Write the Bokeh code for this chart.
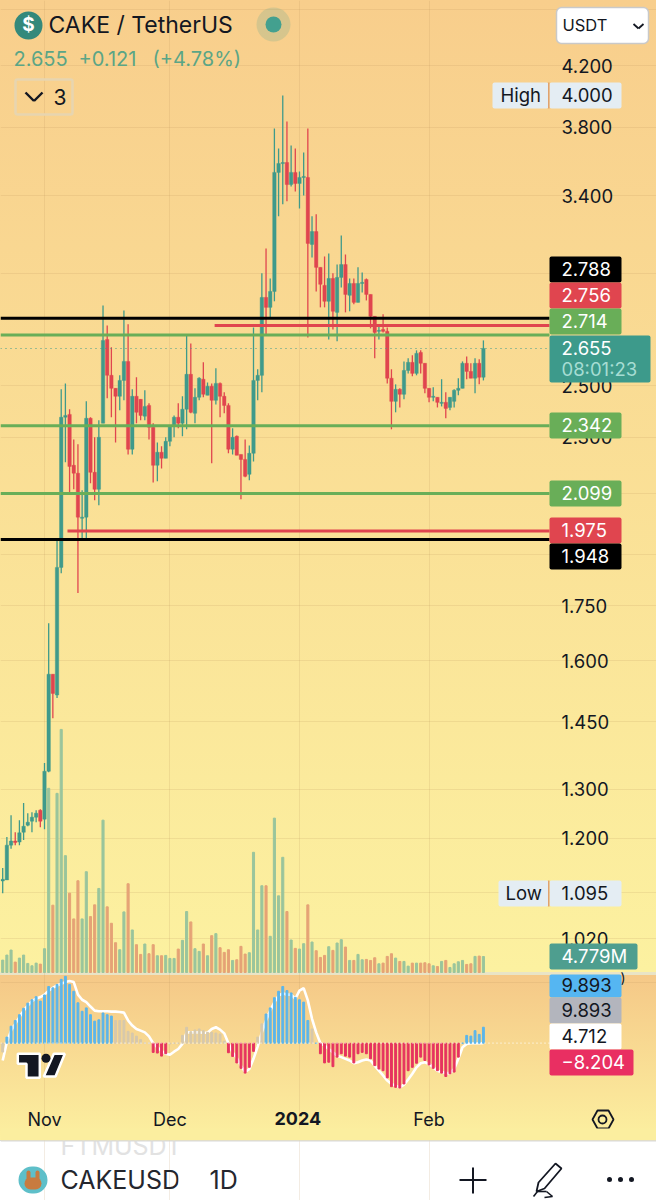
from bokeh.plotting import figure
from bokeh.embed import file_html
from bokeh.resources import INLINE
from bokeh.models import (Range1d, LinearScale, FixedTicker, NumeralTickFormatter, Label, BoxAnnotation,
                          PolyAnnotation, Arrow, ColumnDataSource)

# ---------- data ----------
days = list(range(-10, 106))   # days after 1 Nov 2023
opens = [1.120,1.122,1.187,1.195,1.193,1.212,1.226,1.234,1.242,1.256,1.238,1.338,1.566,1.514,1.862,2.375,2.386,2.197,2.169,2.016,
         2.020,2.371,2.172,2.113,2.352,2.694,2.542,2.489,2.457,2.521,2.600,2.255,2.457,2.445,2.379,2.421,2.337,2.197,2.244,2.222,
         2.284,2.344,2.375,2.352,2.406,2.546,2.390,2.453,2.526,2.461,2.497,2.441,2.509,2.457,2.421,2.255,2.303,2.236,2.218,2.165,
         2.240,2.521,2.542,2.884,2.838,2.912,3.532,3.583,3.589,3.463,3.532,3.469,3.503,3.503,3.143,3.209,3.028,2.941,2.866,2.974,
         2.815,2.979,3.042,2.894,2.950,2.861,2.950,2.969,2.898,2.797,2.730,2.738,2.730,2.530,2.437,2.485,2.465,2.562,2.596,2.550,
         2.638,2.592,2.489,2.453,2.453,2.429,2.433,2.413,2.437,2.481,2.489,2.592,2.558,2.530,2.592,2.534]
highs = [1.144,1.203,1.246,1.212,1.236,1.271,1.250,1.252,1.256,1.258,1.356,1.701,1.566,1.952,2.485,2.509,2.406,2.291,2.273,2.110,
         2.437,2.375,2.299,2.363,2.847,2.756,2.660,2.489,2.542,2.824,2.761,2.485,2.534,2.445,2.481,2.429,2.352,2.280,2.266,2.299,
         2.344,2.382,2.429,2.457,2.712,2.677,2.489,2.534,2.596,2.513,2.509,2.571,2.513,2.473,2.429,2.333,2.306,2.236,2.291,2.269,
         2.747,2.567,2.999,3.122,2.974,3.792,3.671,4.000,3.836,3.689,3.671,3.537,3.648,3.792,3.289,3.300,3.028,3.082,3.097,2.999,
         3.042,3.189,3.092,2.974,2.974,3.028,3.003,2.974,2.898,2.797,2.756,2.806,2.747,2.567,2.505,2.489,2.600,2.613,2.626,2.647,
         2.647,2.592,2.489,2.493,2.453,2.526,2.473,2.453,2.485,2.530,2.600,2.621,2.592,2.613,2.609,2.690]
lows = [1.098,1.122,1.180,1.187,1.187,1.197,1.224,1.212,1.232,1.222,1.218,1.336,1.458,1.507,1.844,2.208,2.096,2.113,1.786,1.952,
        1.952,2.134,2.076,2.059,2.352,2.449,2.375,2.280,2.402,2.441,2.236,2.236,2.352,2.363,2.363,2.291,2.137,2.141,2.186,2.222,
        2.266,2.299,2.333,2.303,2.329,2.390,2.352,2.441,2.453,2.461,2.204,2.425,2.375,2.390,2.240,2.236,2.233,2.079,2.155,2.144,
        2.211,2.441,2.473,2.712,2.788,2.866,3.289,3.354,3.370,3.452,3.424,3.331,3.402,2.703,3.077,2.912,2.838,2.838,2.694,2.738,
        2.686,2.931,2.815,2.820,2.852,2.861,2.907,2.870,2.743,2.613,2.694,2.725,2.509,2.329,2.394,2.413,2.445,2.550,2.538,2.542,
        2.550,2.469,2.433,2.437,2.413,2.417,2.371,2.402,2.413,2.461,2.489,2.526,2.530,2.469,2.505,2.521]
closes = [1.123,1.187,1.195,1.192,1.211,1.224,1.232,1.242,1.250,1.234,1.338,1.566,1.518,1.862,2.375,2.382,2.193,2.169,2.020,2.020,
          2.371,2.172,2.113,2.299,2.690,2.542,2.489,2.457,2.521,2.600,2.255,2.457,2.394,2.382,2.417,2.337,2.197,2.244,2.222,2.284,
          2.344,2.375,2.352,2.406,2.546,2.394,2.453,2.530,2.465,2.497,2.441,2.509,2.457,2.421,2.255,2.299,2.233,2.218,2.158,2.240,
          2.521,2.542,2.884,2.838,2.912,3.532,3.583,3.589,3.463,3.532,3.469,3.503,3.509,3.148,3.209,3.028,2.946,2.866,2.974,2.820,
          2.979,3.042,2.898,2.950,2.861,2.950,2.955,2.898,2.797,2.725,2.734,2.730,2.530,2.437,2.485,2.465,2.562,2.596,2.550,2.634,
          2.592,2.489,2.453,2.457,2.433,2.433,2.409,2.453,2.481,2.489,2.592,2.558,2.530,2.592,2.534,2.655]
volumes = [3.7,5.2,6.7,3.1,4.3,5.2,2.7,2.0,2.8,2.5,7.1,55.0,20.1,53.5,72.6,34.9,23.7,16.0,27.4,16.0,
           30.1,16.7,20.2,25.1,45.5,19.6,14.7,8.9,6.8,18.1,26.5,12.7,8.3,5.4,8.5,5.6,8.3,5.0,5.0,5.1,
           4.2,4.2,7.0,9.6,18.2,15.1,7.1,6.3,8.5,5.0,11.0,11.6,7.4,6.0,6.8,3.6,3.8,7.8,5.5,5.9,
           35.9,12.7,25.9,25.9,10.8,46.1,22.9,34.4,18.2,9.7,7.2,7.0,8.6,20.2,9.1,6.5,4.5,5.1,7.7,6.6,
           8.8,9.8,7.6,3.6,3.6,5.4,3.8,3.9,3.6,4.4,2.6,2.8,4.8,5.6,4.3,3.3,3.3,1.9,2.8,2.8,
           2.8,2.9,2.6,2.0,1.8,3.3,3.6,1.5,2.6,3.2,3.6,2.4,2.6,4.8,4.9,4.779]
hist = [-2.6,1.8,5.0,6.7,8.4,10.3,11.8,12.8,13.7,12.4,14.2,16.7,16.3,17.3,18.8,19.7,17.3,15.3,11.9,9.4,
        10.4,8.4,6.5,6.9,8.9,8.4,8.0,6.7,6.7,6.7,3.5,3.0,2.1,1.1,0.1,0.0,-2.7,-2.9,-3.8,-3.1,
        -0.2,0.0,0.0,2.3,4.7,3.4,3.9,4.2,3.7,3.2,3.2,3.0,2.7,0.6,-2.8,-3.9,-5.8,-7.4,-8.8,-7.1,
        -2.4,1.8,5.7,8.6,10.4,13.4,15.3,16.7,15.5,14.8,13.5,12.8,12.1,6.7,4.2,0.0,-3.1,-5.8,-5.6,-6.9,
        -4.1,-3.1,-3.8,-4.1,-5.8,-3.1,-2.7,-3.1,-4.6,-6.6,-7.6,-8.1,-10.2,-12.8,-13.0,-13.2,-12.0,-8.1,-7.1,-5.9,
        -4.1,-5.1,-6.4,-7.4,-8.1,-8.8,-9.8,-9.0,-8.5,-4.1,0.0,2.3,2.1,3.7,2.6,4.712]
signal = [-5.1,0.3,3.7,5.7,7.7,9.6,11.1,12.4,13.1,13.6,14.3,15.5,16.3,17.0,17.5,18.0,18.3,18.0,14.3,12.8,
          12.1,10.8,9.6,9.4,9.4,9.4,9.3,9.3,9.2,9.0,6.7,5.2,4.2,3.7,3.2,2.0,0.0,-1.2,-2.2,-3.1,
          -3.4,-2.5,-1.7,-0.2,3.2,3.2,3.2,3.2,3.1,3.1,4.2,4.7,4.0,2.9,0.0,-2.7,-4.3,-6.6,-8.5,-7.6,
          -4.6,-1.0,3.2,6.7,9.6,12.1,14.0,14.7,14.3,14.3,13.1,15.5,16.2,12.6,7.2,3.2,0.0,-0.7,-1.7,-2.7,
          -3.7,-4.1,-4.6,-5.1,-5.9,-5.6,-5.1,-4.8,-5.1,-6.6,-8.1,-9.5,-11.0,-12.0,-12.5,-13.0,-12.2,-10.7,-9.0,-7.1,
          -5.9,-5.6,-6.1,-7.1,-8.1,-8.5,-8.8,-8.8,-7.6,-4.6,-1.2,-0.2,0.0,0.0,0.0,0.0]
price_ticks = [4.6,4.2,3.8,3.4,3.0,2.5,2.3,2.1,1.9,1.75,1.6,1.45,1.3,1.2,1.1,1.02,0.95]
month_ticks = {0: "Nov", 30: "Dec", 61: "", 92: "Feb"}
black_levels = [2.788, 1.948]
green_levels = [2.714, 2.342, 2.099]
red_levels = [2.756, 1.975]
red_level_starts = [40.7, 5.5]
last_price = 2.655
gray_hist_days = [-10, 17, 18, 19, 20, 21, 22, 23, 24, 25, 30, 31, 32, 33, 34, 35, 36, 37, 38, 39, 40, 41, 42, 43, 51, 52, 64]

# ---------- colours and layout ----------
UP, DOWN = "#3F9A8B", "#E0454F"
UPV, DOWNV = "#9AC59C", "#E5A376"
LEVELG = "#69AE58"
DARK = "#131722"
W, H = 656, 1200
X0, X1 = -10.526, 120.81      # left edge of the chart, and the price axis
PRICE_BOTTOM = 0.7873         # where the time axis sits
bg = ("linear-gradient(to bottom,#F8CE8C 0px,#FCF1A0 972px,#E9E4C6 972px,#E9E4C6 975px,#F5C887 975px,"
      "#FCF0A0 1140px,#D8D8D8 1140px,#D8D8D8 1141px,#FFFFFF 1141px)")

p = figure(width=W, height=H, output_backend="svg", toolbar_location=None, tools="",
           y_axis_type="log", y_axis_location="right",
           x_range=Range1d(X0, 146.41), y_range=Range1d(0.6673, 4.6667),
           min_border_left=0, min_border_top=0, min_border_right=0, min_border_bottom=0,
           background_fill_alpha=0, border_fill_alpha=0, outline_line_color=None,
           styles={"background": bg, "position": "absolute", "left": "0px", "top": "0px"})
p.extra_y_ranges = {"vol": Range1d(-68.1, 290.3), "osc": Range1d(-46.32, 307.07), "py": Range1d(H, 0)}
p.extra_y_scales = {"vol": LinearScale(), "osc": LinearScale(), "py": LinearScale()}
p.extra_x_ranges = {"px": Range1d(0, W)}

# axes and grid
ya, xa = p.yaxis[0], p.xaxis[0]
ya.ticker = FixedTicker(ticks=price_ticks)
ya.formatter = NumeralTickFormatter(format="0.000")
ya.major_label_overrides = {4.6: "", 0.95: ""}
ya.fixed_location = X1
xa.ticker = FixedTicker(ticks=list(month_ticks))
xa.major_label_overrides = dict(month_ticks)
xa.fixed_location = PRICE_BOTTOM
for a in (ya, xa):
    a.axis_line_color = None
    a.major_tick_line_color = None
    a.minor_tick_line_color = None
    a.major_tick_out = 0
    a.major_tick_in = 0
    a.major_label_text_color = DARK
    a.major_label_text_font = "Inter"
ya.major_label_text_font_size = "18.5px"
ya.major_label_standoff = 12
xa.major_label_text_font_size = "18px"
xa.major_label_standoff = 11
p.xgrid.grid_line_color = "#B8905A"
p.ygrid.grid_line_color = "#B8905A"
p.xgrid.grid_line_alpha = 0.17
p.ygrid.grid_line_alpha = 0.17
p.xgrid.bounds = (PRICE_BOTTOM, 4.6667)
p.ygrid.bounds = (X0, X1)

is_up = [c >= o for o, c in zip(opens, closes)]
vol_src = ColumnDataSource(dict(x=days, top=volumes, color=[UPV if u else DOWNV for u in is_up]))
p.vbar(x="x", top="top", bottom=0, width=0.5, color="color", source=vol_src, y_range_name="vol")

# oscillator
p.line(days, signal, line_color="#FFFFFF", line_width=2.6, y_range_name="osc")
def hist_color(d, v):
    if d in gray_hist_days:
        return "#D6C8AC"
    return "#5BB5EA" if v >= 0 else "#E6335F"
osc_src = ColumnDataSource(dict(x=days, top=hist, color=[hist_color(d, v) for d, v in zip(days, hist)]))
p.vbar(x="x", top="top", bottom=0, width=0.45, color="color", source=osc_src, y_range_name="osc")
p.segment(x0=[X0], x1=[X1], y0=[0], y1=[0], line_color="#FFFFFF", line_width=1.2,
          line_dash="1 3", line_alpha=0.9, y_range_name="osc")

# candles
c_src = ColumnDataSource(dict(x=days, o=opens, h=highs, l=lows, c=closes,
                              color=[UP if u else DOWN for u in is_up],
                              top=[max(a, b) for a, b in zip(opens, closes)],
                              bot=[min(a, b) for a, b in zip(opens, closes)]))
p.segment(x0="x", x1="x", y0="l", y1="h", line_color="color", line_width=1.3, source=c_src)
p.vbar(x="x", top="top", bottom="bot", width=0.82, fill_color="color", line_color="color", line_width=0.4, source=c_src)

# horizontal levels
p.segment(x0=[X0] * 2, x1=[X1] * 2, y0=black_levels, y1=black_levels, line_color="#000000", line_width=3)
p.segment(x0=red_level_starts, x1=[X1] * 2, y0=red_levels, y1=red_levels, line_color=DOWN, line_width=3)
p.segment(x0=[X0] * 3, x1=[X1] * 3, y0=green_levels, y1=green_levels, line_color=LEVELG, line_width=3)
p.segment(x0=[X0], x1=[X1], y0=[last_price], y1=[last_price], line_color=UP, line_width=1.2, line_dash="1 4")

# TradingView mark
p.patch([17.3, 39.3, 39.3, 26, 26, 17.3], [1053.3, 1053.3, 1077.3, 1077.3, 1063.3, 1063.3], x_range_name="px",
        y_range_name="py", fill_color=DARK, line_color="#FFFFFF", line_width=2.5)
p.patch([53.3, 64.3, 55, 43.3], [1053.3, 1053.3, 1076, 1076], x_range_name="px", y_range_name="py",
        fill_color=DARK, line_color="#FFFFFF", line_width=2.5)
p.scatter([45.5], [1057.7], size=9, x_range_name="px", y_range_name="py", fill_color=DARK, line_color=None)

# ---------- helpers for page furniture, in page pixels ----------
def sy(y):
    return H - y

def box(x0, y0, x1, y1, fill, radius=0, line=None, lw=1, alpha=1.0):
    p.add_layout(BoxAnnotation(left=x0, right=x1, top=sy(y0), bottom=sy(y1), left_units="screen", right_units="screen",
                               top_units="screen", bottom_units="screen", fill_color=fill, fill_alpha=alpha,
                               line_color=line, line_alpha=1, line_width=lw, border_radius=radius,
                               level="annotation"))

def text(x, y, s, size=18.5, color=DARK, style="normal", align="left", font="Inter"):
    p.add_layout(Label(x=x, y=sy(y - 1), x_units="screen", y_units="screen", text=s, text_font=font,
                       text_font_size=f"{size}px", text_color=color, text_font_style=style,
                       text_align=align, text_baseline="middle"))

def stroke(x0, y0, x1, y1, color=DARK, lw=2.0):
    p.add_layout(Arrow(end=None, x_start=x0, y_start=sy(y0), x_end=x1, y_end=sy(y1), start_units="screen",
                       end_units="screen", line_color=color, line_width=lw))

def poly(xs, ys, fill=None, line=DARK, lw=2.0):
    p.add_layout(PolyAnnotation(xs=xs, ys=[sy(v) for v in ys], xs_units="screen", ys_units="screen",
                                fill_color=fill, fill_alpha=0 if fill is None else 1, line_color=line, line_alpha=1,
                                line_width=lw, editable=False))

# header
box(14, 11, 42, 39, "#34897B", radius=14)
text(28, 25, "$", 19, "#FFFFFF", "bold", "center")
text(48, 25, "CAKE / TetherUS", 23)
box(256, 7, 290, 41, "#4FA090", radius=17, alpha=0.2)
box(265, 16, 281, 32, "#43A08F", radius=8)
text(13, 59, "2.655", 20, "#5BA586")
text(78, 59, "+0.121", 20, "#5BA586")
text(152, 59, "(+4.78%)", 20, "#5BA586")
box(15, 79, 72, 114, "#F8CD8B", radius=2, line="#E7D5B0", lw=2.5, alpha=0)
stroke(25, 92, 33.5, 100.5, DARK, 2.4)
stroke(33.5, 100.5, 42, 92, DARK, 2.4)
text(53, 97, "3", 21)
text(274, 1119, "2024", 18, DARK, "bold")

# right column
box(556, 7, 648, 43, "#FFFFFF", radius=5, line="#C9C9C9", lw=1.5)
text(562, 25, "USDT", 16.5)
stroke(633, 23.5, 638, 28, DARK, 1.8)
stroke(638, 28, 643, 23.5, DARK, 1.8)

box(492, 82, 548, 108, "#E4EDF3", radius=2)
box(549, 82, 621, 108, "#E4EDF3", radius=2)
box(547.5, 82, 549, 108, "#E0A26E")
text(500, 95, "High", 18.5)
text(561, 95, "4.000")
box(498, 880, 548, 906, "#E4EDF3", radius=2)
box(549, 880, 621, 906, "#E4EDF3", radius=2)
box(547.5, 880, 549, 906, "#E0A26E")
text(505, 893, "Low", 18.5)
text(561, 893, "1.095")

text(620, 978, ")", 14)
tags = [(256, 282, 621, "#000000", "2.788", "#FFFFFF"), (282, 308, 621, DOWN, "2.756", "#FFFFFF"),
        (308, 334, 621, LEVELG, "2.714", "#FFFFFF"), (412, 438, 621, LEVELG, "2.342", "#FFFFFF"),
        (480, 506, 621, LEVELG, "2.099", "#FFFFFF"), (517, 543, 621, DOWN, "1.975", "#FFFFFF"),
        (543, 569, 621, "#000000", "1.948", "#FFFFFF"), (943, 969, 637, "#4E9E8F", "4.779M", "#FFFFFF"),
        (974, 997, 621, "#55B6F2", "9.893", DARK), (997, 1023, 621, "#B3B5BD", "9.893", DARK),
        (1023, 1049, 621, "#FFFFFF", "4.712", DARK), (1049, 1075, 633, "#E92F62", "\u22128.204", "#FFFFFF")]
for y0, y1, x1, fill, s, col in tags:
    box(549, y0, x1, y1, fill, radius=2)
    text(561, (y0 + y1) / 2, s, 18.5, col)
box(549, 335, 650, 382, "#3D9A8B", radius=2)
text(561, 348, "2.655", 18.5, "#FFFFFF")
text(561, 369, "08:01:23", 18.5, "#A6DDD3")

# time axis icon
poly([592, 597, 608, 613, 608, 597], [1119, 1110, 1110, 1119, 1128, 1128], None, DARK, 1.8)
box(598, 1115, 606, 1123, "#FCF0A0", radius=4, line=DARK, lw=1.8)

# bottom bar
text(60, 1146, "FTMUSDT", 25, "#E2E2E2")
box(0, 1128, 656, 1140, "#FBEE9F")
box(0, 1140, 656, 1141, "#D8D8D8")
box(18, 1166, 47, 1193, "#5EBFC9", radius=14)
box(26, 1170, 30, 1182, "#C87B3F", radius=2)
box(35, 1170, 39, 1182, "#C87B3F", radius=2)
box(24, 1177, 41, 1189, "#C87B3F", radius=6)
text(60, 1180, "CAKEUSDT", 25, "#24262E")
box(178, 1162, 200, 1198, "#FFFFFF")
text(209, 1180, "1D", 25, "#24262E")
stroke(459, 1179.5, 486, 1179.5, DARK, 2)
stroke(472.5, 1167, 472.5, 1193, DARK, 2)
poly([555, 561, 544, 536, 538], [1163, 1168, 1188, 1191, 1182], None, DARK, 1.8)
stroke(533, 1196, 537, 1191, DARK, 1.6)
stroke(537, 1191, 546, 1191, DARK, 1.6)
stroke(546, 1191, 552, 1196, DARK, 1.6)
stroke(552, 1196, 544, 1197, DARK, 1.6)
for cx in (609, 620, 631):
    box(cx - 2.5, 1176.5, cx + 2.5, 1181.5, DARK, radius=3)

open("out.html", "w").write(file_html(p, INLINE))
